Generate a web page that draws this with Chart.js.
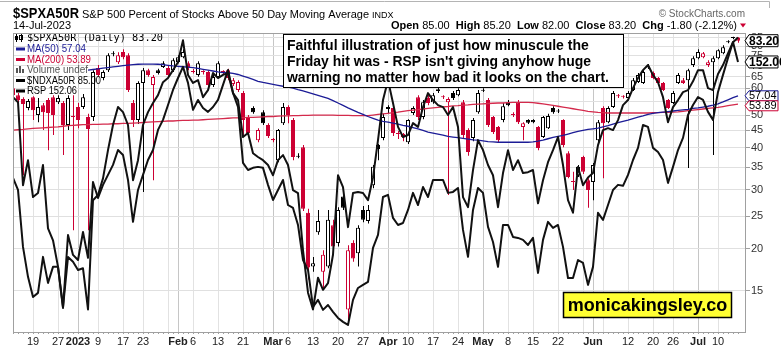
<!DOCTYPE html>
<html>
<head>
<meta charset="utf-8">
<title>$SPXA50R</title>
<script src="https://cdn.jsdelivr.net/npm/chart.js@4.4.0/dist/chart.umd.min.js"></script>
<style>
  html, body { margin: 0; padding: 0; background: #fff; }
</style>
</head>
<body>
<canvas id="spxChart" width="781" height="346"></canvas>
<script>
// one entry per session, 13-Dec-2022 .. 14-Jul-2023
const opens = [
  60.1, 57.3, 55.8, 52.5, 56.5, 50.0, 53.5, 55.4, 56.5, 54.6,
  54.3, 46.7, 49.6, 52.8, 52.8, 49.3, 49.3, 69.0, 64.4, 68.0,
  75.8, 71.8, 77.0, 75.3, 54.3, 48.3, 62.3, 68.0, 61.4, 68.0,
  69.5, 69.0, 68.0, 71.8, 74.3, 71.3, 67.4, 65.8, 67.4, 67.1,
  61.4, 64.9, 67.4, 68.0, 61.8, 59.3, 58.1, 49.3, 52.5, 42.1,
  51.0, 46.7, 42.4, 36.7, 47.3, 52.8, 48.3, 37.6, 40.1, 25.6,
  17.7, 22.4, 17.1, 17.7, 23.5, 20.8, 28.6, 13.2, 20.8, 19.4,
  26.1, 24.2, 30.9, 40.7, 42.7, 52.1, 52.5, 44.1, 43.9, 41.5,
  50.7, 56.5, 49.3, 56.2, 54.6, 59.7, 56.7, 54.6, 58.1, 57.3,
  54.6, 45.1, 42.7, 51.0, 59.0, 55.4, 49.3, 46.1, 48.3, 54.6,
  50.2, 54.6, 46.1, 48.3, 48.3, 46.1, 43.0, 45.7, 52.5, 51.2,
  48.3, 38.5, 31.8, 33.1, 37.5, 32.0, 31.6, 42.1, 52.5, 47.6,
  52.8, 57.1, 56.9, 56.2, 59.3, 62.7, 62.3, 69.2, 66.7, 64.4,
  62.3, 55.4, 54.3, 62.3, 63.5, 63.5, 70.4, 73.8, 74.3, 70.4,
  71.8, 73.8, 76.3, 82.3, 84.7, 85.0
];
const highs = [
  61.0, 58.1, 56.5, 55.8, 56.9, 56.2, 54.3, 56.2, 57.3, 57.3,
  55.0, 57.3, 57.3, 54.3, 57.7, 50.4, 68.0, 70.4, 68.0, 76.3,
  77.4, 76.8, 78.4, 76.3, 55.4, 63.0, 69.0, 68.7, 65.8, 68.7,
  72.3, 70.4, 73.8, 75.3, 78.4, 72.3, 68.5, 72.3, 68.0, 67.8,
  65.8, 72.3, 68.0, 68.7, 64.4, 63.5, 58.9, 50.0, 53.1, 45.7,
  51.7, 47.3, 42.7, 45.4, 54.3, 53.5, 49.0, 38.5, 40.7, 26.3,
  18.9, 26.1, 19.8, 26.1, 24.4, 26.6, 29.1, 20.5, 21.2, 23.5,
  26.8, 27.0, 35.5, 41.0, 50.4, 53.5, 53.1, 44.8, 44.2, 48.6,
  53.1, 57.3, 55.4, 57.3, 58.1, 60.6, 57.3, 56.5, 58.9, 60.1,
  55.4, 45.7, 49.0, 59.3, 60.1, 56.2, 49.7, 46.4, 54.3, 55.4,
  51.0, 55.4, 47.6, 48.6, 48.6, 46.4, 49.7, 50.4, 53.1, 52.1,
  48.6, 39.0, 33.9, 35.5, 37.8, 32.4, 36.0, 48.3, 53.1, 53.1,
  58.9, 57.7, 57.3, 58.9, 64.4, 66.7, 68.0, 70.9, 67.4, 64.9,
  62.7, 55.8, 58.9, 66.7, 64.4, 68.7, 74.8, 78.4, 77.0, 72.8,
  74.8, 78.4, 80.6, 83.4, 85.5, 85.2
];
const lows = [
  56.2, 53.9, 33.1, 51.7, 48.3, 47.6, 45.1, 39.3, 43.6, 53.9,
  38.0, 45.1, 22.7, 45.7, 52.1, 22.7, 48.0, 65.0, 63.5, 67.1,
  74.8, 70.9, 73.3, 58.5, 46.1, 47.0, 29.5, 65.0, 32.0, 66.0,
  69.0, 65.0, 67.1, 71.3, 73.8, 68.0, 66.4, 65.0, 66.0, 60.6,
  60.6, 64.4, 66.0, 63.5, 61.0, 58.5, 43.6, 43.3, 50.4, 41.5,
  46.7, 42.7, 41.5, 36.2, 46.7, 47.3, 36.7, 37.2, 25.9, 16.2,
  17.1, 22.0, 15.1, 17.5, 19.4, 20.3, 26.1, 11.9, 18.3, 17.7,
  24.0, 23.8, 30.3, 36.7, 42.1, 50.7, 43.3, 42.4, 41.8, 41.0,
  50.0, 48.3, 48.6, 53.5, 54.0, 58.1, 55.8, 28.9, 55.4, 56.9,
  42.7, 37.8, 41.8, 50.4, 58.5, 46.1, 43.9, 41.3, 47.6, 53.1,
  49.3, 47.0, 42.1, 47.0, 47.3, 39.3, 42.7, 45.4, 50.4, 50.7,
  40.1, 32.4, 29.9, 32.7, 33.4, 26.5, 27.9, 41.5, 32.4, 47.3,
  52.5, 56.2, 56.0, 55.8, 58.9, 62.3, 61.8, 68.5, 63.9, 61.8,
  58.9, 52.1, 53.9, 61.8, 61.8, 34.8, 69.5, 73.3, 73.8, 69.5,
  38.0, 73.3, 75.8, 81.7, 84.0, 82.0
];
const closes = [
  57.3, 55.4, 53.9, 55.0, 51.7, 52.8, 51.0, 50.7, 50.0, 56.2,
  46.7, 56.2, 49.3, 48.3, 56.5, 45.4, 67.1, 65.8, 67.1, 75.3,
  76.3, 75.3, 74.3, 59.3, 48.3, 62.3, 68.0, 65.8, 64.9, 66.7,
  71.3, 65.8, 72.8, 74.3, 77.0, 69.0, 67.1, 71.3, 67.1, 61.4,
  64.9, 71.3, 67.1, 64.4, 63.5, 62.7, 48.3, 44.2, 51.0, 45.1,
  47.3, 43.3, 42.1, 45.1, 52.8, 50.0, 37.5, 37.8, 26.3, 17.6,
  18.1, 24.2, 19.2, 24.4, 20.3, 26.1, 26.5, 19.8, 18.7, 23.1,
  24.4, 26.1, 35.1, 39.6, 49.3, 52.8, 44.2, 43.9, 43.0, 48.3,
  52.5, 49.3, 54.6, 54.3, 57.3, 58.9, 56.5, 55.8, 56.2, 59.3,
  43.6, 38.8, 48.3, 58.1, 59.3, 46.7, 44.5, 42.1, 53.1, 53.5,
  50.0, 47.6, 47.3, 47.4, 47.6, 39.9, 49.3, 49.7, 51.0, 51.4,
  40.7, 32.7, 31.6, 35.1, 33.9, 29.9, 35.5, 47.6, 47.3, 52.5,
  58.1, 56.9, 56.7, 58.1, 63.5, 65.8, 67.1, 69.5, 64.4, 62.3,
  59.3, 52.5, 58.1, 65.8, 62.3, 68.0, 73.8, 77.0, 76.3, 71.8,
  73.8, 77.9, 79.5, 82.6, 85.0, 83.2
];
const ma50 = [
  null, null, null, null, null, null, null, null, null, null,
  null, null, null, null, null, 68.0, 68.3, 68.6, 68.9, 69.2,
  69.5, 69.8, 70.1, 70.4, 70.6, 70.8, 70.9, 70.9, 70.9, 70.8,
  70.6, 70.3, 70.0, 69.8, 69.6, 69.4, 69.2, 68.8, 68.4, 68.0,
  67.6, 67.2, 66.9, 66.8, 66.5, 66.0, 65.3, 64.6, 63.8, 63.0,
  62.5, 62.1, 61.7, 61.3, 60.9, 60.5, 60.1, 59.5, 59.0, 58.4,
  57.8, 57.2, 56.6, 56.0, 55.2, 54.3, 53.4, 52.5, 51.7, 50.9,
  50.2, 49.5, 48.9, 48.3, 47.9, 47.6, 47.3, 47.0, 46.6, 46.3,
  45.9, 45.5, 45.0, 44.5, 44.2, 43.9, 43.6, 43.2, 43.0, 42.8,
  42.6, 42.4, 42.2, 42.1, 41.9, 41.7, 41.6, 41.5, 41.5, 41.5,
  41.5, 41.5, 41.5, 41.5, 41.6, 41.8, 42.1, 42.5, 42.9, 43.2,
  43.5, 43.9, 44.3, 44.7, 45.0, 45.3, 45.5, 45.7, 46.1, 46.5,
  47.0, 47.5, 47.9, 48.3, 48.8, 49.3, 49.7, 50.2, 50.6, 50.8,
  51.0, 51.2, 51.4, 51.6, 51.8, 52.0, 52.3, 52.5, 52.8, 53.1,
  53.5, 54.0, 54.7, 55.5, 56.3, 57.04
];
const ma200 = [
  45.1, 45.2, 45.3, 45.5, 45.6, 45.7, 45.8, 45.9, 46.0, 46.1,
  46.3, 46.5, 46.6, 46.7, 46.8, 46.8, 46.9, 46.9, 47.0, 47.0,
  47.1, 47.1, 47.2, 47.2, 47.3, 47.4, 47.5, 47.6, 47.7, 47.8,
  47.9, 48.0, 48.0, 48.1, 48.2, 48.2, 48.3, 48.3, 48.4, 48.5,
  48.6, 48.7, 48.8, 48.9, 49.0, 49.0, 49.1, 49.2, 49.2, 49.3,
  49.4, 49.5, 49.5, 49.6, 49.7, 49.7, 49.8, 49.8, 49.9, 49.9,
  50.0, 50.0, 50.0, 50.0, 50.0, 49.9, 49.9, 49.9, 49.8, 49.8,
  49.8, 49.8, 50.0, 50.2, 50.4, 50.6, 50.8, 51.0, 51.3, 51.5,
  51.7, 51.9, 52.1, 52.3, 52.5, 52.7, 52.9, 53.0, 53.2, 53.3,
  53.5, 53.6, 53.8, 53.9, 54.0, 54.1, 54.2, 54.3, 54.3, 54.4,
  54.5, 54.5, 54.5, 54.5, 54.4, 54.2, 54.0, 53.7, 53.4, 53.1,
  52.8, 52.5, 52.2, 51.9, 51.6, 51.3, 51.1, 50.9, 50.8, 50.7,
  50.7, 50.7, 50.7, 50.7, 50.7, 50.7, 50.7, 50.7, 50.8, 50.8,
  50.9, 50.9, 51.0, 51.1, 51.3, 51.5, 51.7, 51.9, 52.1, 52.3,
  52.5, 52.7, 53.0, 53.3, 53.6, 53.89
];
const ndxa50r = [
  56.5, 54.6, 30.9, 36.7, 28.5, 29.3, 35.5, 23.0, 21.2, 17.7,
  13.4, 18.9, 18.3, 17.3, 17.5, 13.2, 27.9, 28.9, 32.4, 39.3,
  46.7, 52.8, 51.0, 46.7, 32.0, 36.7, 46.7, 51.0, 54.3, 57.3,
  62.6, 64.4, 68.0, 71.8, 83.4, 65.8, 62.3, 63.5, 56.5, 59.3,
  66.7, 64.4, 65.8, 66.7, 58.1, 55.4, 43.0, 44.2, 38.5, 37.5,
  36.7, 35.5, 33.1, 36.7, 38.0, 35.5, 29.9, 29.3, 19.8, 14.8,
  13.2, 16.4, 15.1, 15.8, 19.2, 33.1, 30.5, 23.2, 29.3, 29.5,
  29.3, 27.9, 32.6, 42.1, 55.4, 63.5, 54.3, 46.1, 43.0, 43.6,
  47.3, 46.1, 52.8, 58.1, 55.4, 53.5, 52.8, 50.0, 52.8, 46.1,
  28.5, 26.6, 34.3, 42.1, 39.3, 35.5, 33.1, 26.6, 33.6, 39.3,
  34.3, 36.7, 33.6, 33.8, 34.3, 27.3, 32.0, 36.2, 39.3, 43.0,
  35.5, 27.9, 25.6, 35.0, 30.9, 32.6, 33.6, 40.7, 45.1, 45.7,
  45.1, 48.3, 53.5, 55.4, 60.1, 64.4, 68.0, 70.4, 65.8, 62.6,
  56.5, 47.6, 52.8, 55.4, 58.5, 59.3, 63.0, 68.0, 68.0, 60.1,
  59.3, 66.2, 70.4, 76.3, 82.3, 85.0
];
const rsp = [
  144.97, 144.24, 140.76, 138.93, 137.70, 137.95, 140.15, 138.56, 139.54, 139.54,
  137.03, 141.49, 140.27, 139.96, 141.67, 140.09, 144.73, 143.75, 144.55, 145.16,
  145.77, 146.68, 146.38, 144.85, 142.29, 144.24, 145.16, 146.07, 146.68, 147.91,
  148.52, 149.43, 150.35, 151.08, 151.76, 150.78, 149.13, 149.74, 149.25, 149.01,
  149.31, 149.74, 150.66, 151.57, 150.17, 149.31, 145.89, 145.46, 145.59, 145.65,
  145.59, 144.55, 143.63, 144.24, 144.85, 143.32, 143.14, 142.10, 139.96, 139.35,
  137.09, 137.52, 136.91, 137.21, 136.79, 136.42, 136.18, 135.99, 137.52, 138.25,
  138.44, 138.62, 140.70, 141.49, 143.81, 143.94, 142.53, 142.10, 142.22, 143.02,
  144.06, 143.32, 144.42, 143.81, 144.85, 144.85, 144.85, 144.06, 144.12, 144.36,
  141.80, 140.15, 143.02, 144.36, 144.06, 141.98, 141.06, 139.54, 142.10, 142.10,
  141.37, 141.31, 141.19, 140.88, 141.31, 139.17, 141.19, 142.29, 141.92, 142.10,
  140.76, 138.86, 138.86, 139.96, 139.78, 138.44, 139.54, 142.84, 142.41, 143.32,
  144.24, 144.55, 144.49, 145.16, 146.07, 146.81, 148.21, 148.09, 146.81, 146.56,
  146.07, 144.67, 145.65, 146.68, 147.42, 148.82, 149.43, 149.92, 149.74, 149.01,
  148.52, 150.23, 151.27, 152.31, 153.28, 152.06
];

// session numbers that get a date label / grid line
const tickDays = [4, 9, 13, 17, 22, 26, 31, 33, 36, 41, 46, 50, 52, 55, 60, 65, 70,
  75, 79, 84, 89, 94, 99, 104, 109, 114, 116, 118, 123, 128, 132, 137, 141];
const tickLabels = ['19', '27', '2023', '9', '17', '23', '', 'Feb', '6', '13', '21', '', 'Mar', '6', '13', '20', '27',
  'Apr', '10', '17', '24', 'May', '8', '15', '22', '', 'Jun', '', '12', '20', '26', 'Jul', '10'];
const priceTicks = [15, 20, 25, 30, 35, 40, 45, 50, 55, 60, 65, 70, 75, 80, 85];

const SANS = '"Liberation Sans", Arial, sans-serif';
const MONO = '"DejaVu Sans Mono", monospace';
const RED = '#cc0033';
const NAVY = '#1c1c96';
const MA_RED = '#d42a4c';

const n = closes.length;
const last = a => a[a.length - 1];
const fmt = v => v.toFixed(2);

// StockCharts colouring: black/red against previous close, hollow when close > open
const candleColor = closes.map((c, i) => c >= (i ? closes[i - 1] : opens[i]) ? '#000000' : RED);
const bodyFill = closes.map((c, i) => c > opens[i] ? '#ffffff' : candleColor[i]);

const points = arr => arr.map((v, i) => ({ x: i, y: v }));

function labelFor(tick) {
  if (!tick) return '';
  const k = tickDays.indexOf(tick.value);
  return k < 0 ? '' : tickLabels[k];
}
const isBold = s => s !== '' && (isNaN(Number(s)) || s.length === 4);

function drawBadge(ctx, b) {
  const x0 = 745, x1 = 778, h = b.h;
  ctx.beginPath();
  ctx.moveTo(x0, b.py);
  ctx.lineTo(x0 + 4, b.py - h / 2);
  ctx.lineTo(x1, b.py - h / 2);
  ctx.lineTo(x1, b.py + h / 2);
  ctx.lineTo(x0 + 4, b.py + h / 2);
  ctx.closePath();
  ctx.fillStyle = '#fff';
  ctx.fill();
  ctx.strokeStyle = b.border;
  ctx.lineWidth = 1;
  ctx.stroke();
  ctx.fillStyle = '#000';
  ctx.font = (b.bold ? 'bold 12px ' : '11px ') + SANS;
  ctx.textAlign = 'left';
  ctx.textBaseline = 'middle';
  ctx.fillText(b.text, x0 + 4, b.py + 0.5);
}

const stockChartsDecor = {
  id: 'stockChartsDecor',
  beforeDraw(chart) {
    const ctx = chart.ctx;
    ctx.save();
    ctx.fillStyle = '#fff';
    ctx.fillRect(0, 0, chart.width, chart.height);
    ctx.restore();
  },
  afterDatasetsDraw(chart) {
    const ctx = chart.ctx;
    ctx.save();

    // legend block, top left of the price panel
    const rows = [
      { y: 38, text: `$SPXA50R (Daily) ${fmt(last(closes))}`, color: '#000', font: '10.5px ' + MONO, w: 136, icon: 'candle' },
      { y: 49, text: `MA(50) ${fmt(last(ma50))}`, color: NAVY, font: '10.5px ' + SANS, w: 59, icon: 'line' },
      { y: 59.5, text: `MA(200) ${fmt(last(ma200))}`, color: RED, font: '10.5px ' + SANS, w: 64, icon: 'line' },
      { y: 70, text: 'Volume undef', color: '#555', font: '10.5px ' + SANS, w: 61, icon: 'volume' },
      { y: 80.5, text: `$NDXA50R ${fmt(last(ndxa50r))}`, color: '#000', font: '10.5px ' + SANS, w: 74, icon: 'line' },
      { y: 91, text: `RSP ${fmt(last(rsp))}`, color: '#000', font: '10.5px ' + SANS, w: 50, icon: 'line' }
    ];
    rows.forEach(r => {
      ctx.fillStyle = r.color;
      if (r.icon === 'line') {
        ctx.fillRect(16, r.y - 1.5, 9, 3);
      } else if (r.icon === 'volume') {
        ctx.fillRect(16, r.y - 2, 2, 5);
        ctx.fillRect(19, r.y - 4, 2, 7);
        ctx.fillRect(22, r.y - 1, 2, 4);
      } else {
        ctx.fillRect(16, r.y - 4, 1, 8);
        ctx.fillRect(15, r.y - 2, 3, 4);
        ctx.fillRect(21, r.y - 4, 1, 8);
        ctx.strokeStyle = r.color;
        ctx.lineWidth = 1;
        ctx.strokeRect(19.5, r.y - 2.5, 3, 4);
      }
      ctx.font = r.font;
      ctx.textAlign = 'left';
      ctx.textBaseline = 'middle';
      ctx.fillText(r.text, 27, r.y + 0.5, r.w);
    });

    // comment box
    ctx.fillStyle = '#fff';
    ctx.fillRect(283.5, 34.5, 340, 53);
    ctx.strokeStyle = '#000';
    ctx.lineWidth = 1;
    ctx.strokeRect(283.5, 34.5, 340, 53);
    ctx.fillStyle = '#000';
    ctx.font = 'bold 14px ' + SANS;
    ctx.textBaseline = 'alphabetic';
    ctx.fillText('Faithful illustration of just how minuscule the', 287, 50, 302);
    ctx.fillText("Friday hit was - RSP isn't giving anyhow huge", 287, 66, 304);
    ctx.fillText('warning no matter how bad it looks on the chart.', 287, 82, 322);

    // site tag, bottom right
    ctx.fillStyle = '#ffff33';
    ctx.fillRect(563.5, 292.5, 168, 25);
    ctx.lineWidth = 1.5;
    ctx.strokeRect(563.5, 292.5, 168, 25);
    ctx.fillStyle = '#000';
    ctx.font = 'bold 18px ' + SANS;
    ctx.textAlign = 'center';
    ctx.fillText('monicakingsley.co', 647.5, 311, 160);
    ctx.restore();
  },
  afterDraw(chart) {
    const ctx = chart.ctx;
    const area = chart.chartArea;
    const xs = chart.scales.x;
    ctx.save();

    // panel frame and per-session ticks under the date axis
    ctx.strokeStyle = '#a0a0a0';
    ctx.lineWidth = 1;
    ctx.strokeRect(area.left + 0.5, area.top + 0.5, area.right - area.left - 1, area.bottom - area.top);
    ctx.beginPath();
    for (let i = 0; i < n; i++) {
      const px = Math.round(xs.getPixelForValue(i)) + 0.5;
      ctx.moveTo(px, area.bottom);
      ctx.lineTo(px, area.bottom + 2);
    }
    ctx.stroke();

    // outer frame line at the very top
    ctx.strokeStyle = '#b4b4b4';
    ctx.beginPath();
    ctx.moveTo(0, 1.5);
    ctx.lineTo(769.5, 1.5);
    ctx.lineTo(769.5, 8);
    ctx.stroke();

    // title rows
    ctx.textAlign = 'left';
    ctx.textBaseline = 'alphabetic';
    ctx.fillStyle = '#000';
    ctx.font = 'bold 15px ' + SANS;
    ctx.fillText('$SPXA50R', 13, 18, 66);
    ctx.font = '11.5px ' + SANS;
    ctx.fillText('S&P 500 Percent of Stocks Above 50 Day Moving Average', 82, 18, 287);
    ctx.font = '9px ' + SANS;
    ctx.fillText('INDX', 372, 18);
    ctx.font = '11px ' + SANS;
    ctx.fillText('14-Jul-2023', 13, 28.5);
    ctx.fillStyle = '#666';
    ctx.font = '10px ' + SANS;
    ctx.textAlign = 'right';
    ctx.fillText('\u00A9 StockCharts.com', 745, 17);

    // OHLC summary for the last session
    const o = last(opens), h = last(highs), l = last(lows), c = last(closes);
    const prev = closes[n - 2];
    const chg = c - prev;
    const pct = chg / prev * 100;
    const parts = [
      ['Open', true], [` ${fmt(o)}  `, false],
      ['High', true], [` ${fmt(h)}  `, false],
      ['Low', true], [` ${fmt(l)}  `, false],
      ['Close', true], [` ${fmt(c)}  `, false],
      ['Chg', true], [` ${fmt(chg)} (${fmt(pct)}%)`, false]
    ];
    ctx.textAlign = 'left';
    ctx.fillStyle = '#000';
    const widths = parts.map(([t, b]) => { ctx.font = (b ? 'bold ' : '') + '11px ' + SANS; return ctx.measureText(t).width; });
    let x = 737 - widths.reduce((a, b) => a + b, 0);
    parts.forEach(([t, b], k) => {
      ctx.font = (b ? 'bold ' : '') + '11px ' + SANS;
      ctx.fillText(t, x, 28.5);
      x += widths[k];
    });
    ctx.fillStyle = RED;
    ctx.beginPath();
    ctx.moveTo(740, 23.5);
    ctx.lineTo(746, 23.5);
    ctx.lineTo(743, 27.5);
    ctx.closePath();
    ctx.fill();

    // last-value tags on the right axis
    const ys = chart.scales.y, y2 = chart.scales.y2;
    const tags = [
      { py: ys.getPixelForValue(c), text: fmt(c), border: '#000', bold: true, h: 12 },
      { py: y2.getPixelForValue(last(rsp)), text: fmt(last(rsp)), border: '#000', bold: true, h: 12 },
      { py: ys.getPixelForValue(last(ma50)), text: fmt(last(ma50)), border: NAVY, bold: false, h: 10 },
      { py: ys.getPixelForValue(last(ma200)), text: fmt(last(ma200)), border: RED, bold: false, h: 10 }
    ].sort((a, b) => a.py - b.py);
    for (let k = 1; k < tags.length; k++) {
      const need = tags[k - 1].py + (tags[k - 1].h + tags[k].h) / 2;
      if (tags[k].py < need) tags[k].py = need;
    }
    tags.forEach(t => drawBadge(ctx, t));
    ctx.restore();
  }
};

const ctx = document.getElementById('spxChart');
new Chart(ctx, {
  type: 'bar',
  data: {
    datasets: [
      {
        label: 'range',
        data: lows.map((v, i) => ({ x: i, y: [v, highs[i]] })),
        xAxisID: 'xw',
        yAxisID: 'y',
        backgroundColor: candleColor,
        borderWidth: 0,
        barThickness: 1,
        inflateAmount: 0,
        grouped: false,
        order: 6
      },
      {
        label: 'body',
        data: opens.map((v, i) => ({ x: i, y: [v, closes[i]] })),
        xAxisID: 'x',
        yAxisID: 'y',
        backgroundColor: bodyFill,
        borderColor: candleColor,
        borderWidth: 1,
        borderSkipped: false,
        barThickness: 4,
        minBarLength: 1,
        inflateAmount: 0,
        grouped: false,
        order: 5
      },
      {
        type: 'line', label: 'MA(200)', data: points(ma200), yAxisID: 'y',
        borderColor: MA_RED, borderWidth: 1.3, pointRadius: 0, tension: 0, order: 4
      },
      {
        type: 'line', label: 'MA(50)', data: points(ma50), yAxisID: 'y',
        borderColor: NAVY, borderWidth: 1.3, pointRadius: 0, tension: 0, order: 3
      },
      {
        type: 'line', label: '$NDXA50R', data: points(ndxa50r), yAxisID: 'y',
        borderColor: '#111', borderWidth: 2, pointRadius: 0, tension: 0, borderJoinStyle: 'round', order: 2
      },
      {
        type: 'line', label: 'RSP', data: points(rsp), yAxisID: 'y2',
        borderColor: '#111', borderWidth: 2, pointRadius: 0, tension: 0, borderJoinStyle: 'round', order: 1
      }
    ]
  },
  options: {
    responsive: false,
    animation: false,
    events: [],
    layout: { padding: { left: 13, top: 33, right: 0, bottom: 0 } },
    plugins: { legend: { display: false }, tooltip: { enabled: false } },
    scales: {
      x: {
        type: 'linear',
        min: 0,
        max: 146.6,
        offset: false,
        afterBuildTicks: s => { s.ticks = tickDays.map(v => ({ value: v })); },
        afterFit: s => { s.height = 14; },
        border: { display: false },
        grid: {
          offset: false,
          drawTicks: false,
          color: c => isBold(labelFor(c.tick)) ? '#c6c6c6' : '#e2e2e2'
        },
        ticks: {
          autoSkip: false,
          maxRotation: 0,
          padding: 3,
          color: '#222',
          font: c => ({ family: SANS, size: 11, weight: isBold(labelFor(c.tick)) ? 'bold' : 'normal' }),
          callback: v => tickLabels[tickDays.indexOf(v)]
        }
      },
      xw: { type: 'linear', display: false, offset: false, min: -0.1, max: 146.5, grid: { offset: false } },
      y: {
        type: 'logarithmic',
        position: 'right',
        min: 11.31,
        max: 87.7,
        afterBuildTicks: s => { s.ticks = priceTicks.map(v => ({ value: v })); },
        afterFit: s => { s.width = 35; },
        border: { display: false },
        grid: { color: '#e0e0e0', tickLength: 4, tickColor: '#a0a0a0' },
        ticks: {
          autoSkip: false,
          padding: 1,
          color: '#333',
          font: { family: SANS, size: 11 },
          callback: v => String(v)
        }
      },
      y2: { type: 'linear', display: false, min: 135.56, max: 153.83 }
    }
  },
  plugins: [stockChartsDecor]
});
</script>
</body>
</html>
